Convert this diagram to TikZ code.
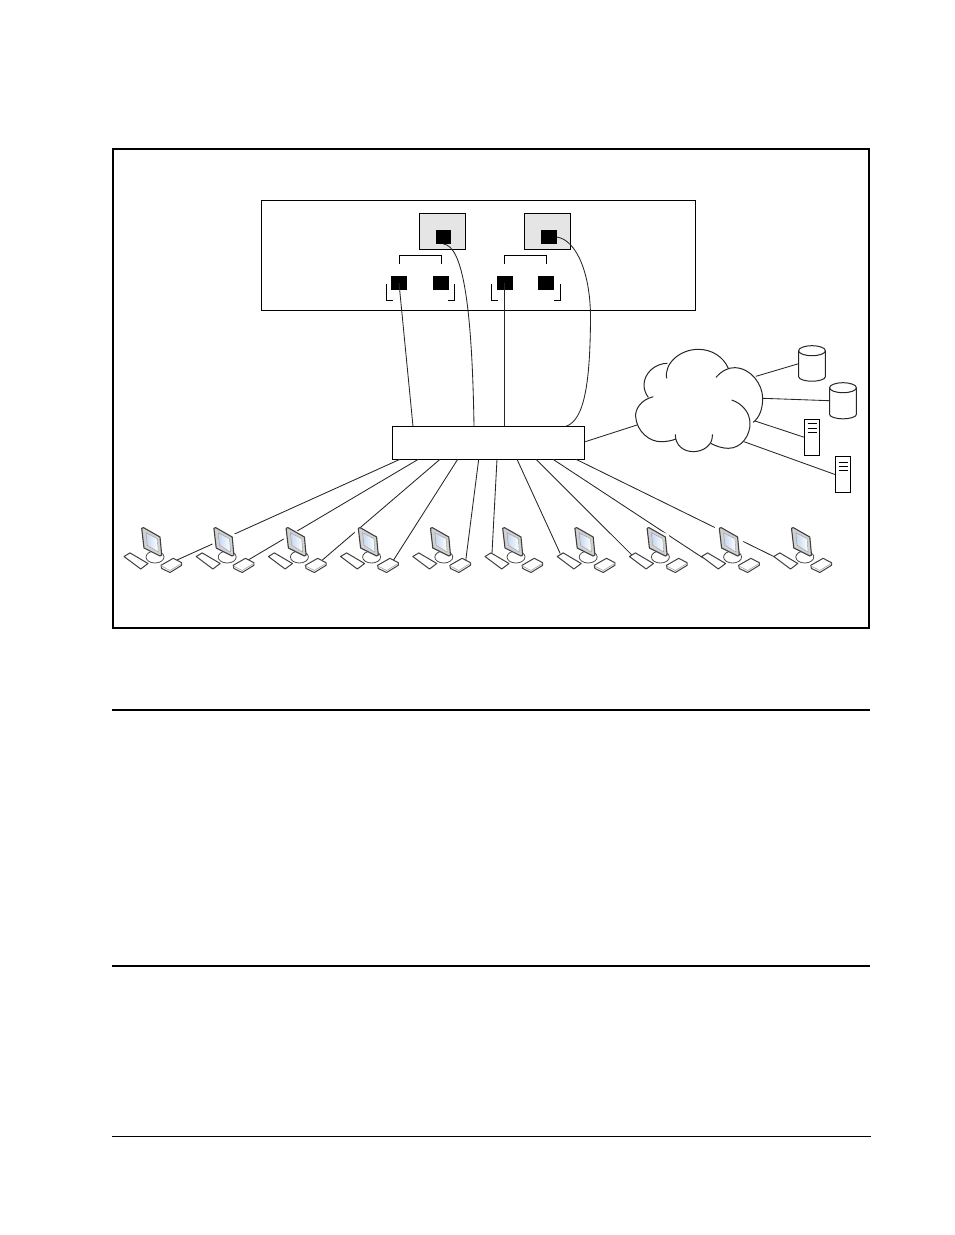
\documentclass[tikz,border=0pt]{standalone}
\usetikzlibrary{calc}
\definecolor{screenblue}{RGB}{196,214,242}
\tikzset{
 x=1pt,y=-1pt,
 box/.style={draw=black,line width=1pt,fill=white,inner sep=0pt,outer sep=0pt},
 graybox/.style={box,fill=black!10,minimum width=46pt,minimum height=36pt},
 port/.style={fill=black,inner sep=0pt,outer sep=0pt,minimum width=15.5pt,minimum height=14pt},
 bracket/.style={line width=0.9pt,black},
 wire/.style={line width=0.85pt,black!85},
 cloudline/.style={line width=1pt,black!85},
 server/.style={box,minimum width=15.4pt,minimum height=35.5pt},
 rule/.style={black},
}
\begin{document}
\begin{tikzpicture}
\useasboundingbox (0,0) rectangle (954,1235);
\fill[white] (0,0) rectangle (954,1235);
% frame
\node[box,line width=1.6pt,fill=none,minimum width=756.5pt,minimum height=478.8pt] (frame) at (491,388.6) {};
\node[box,minimum width=433.5pt,minimum height=109.5pt] (shelf) at (478.25,255.25) {};
% gray boxes
\node[graybox] (g1) at (442.3,231.3) {};
\node[graybox] (g2) at (547.5,231.3) {};
% ports
\node[port] (a) at (443.5,237) {};
\node[port] (b) at (549,237) {};
\node[port] (c) at (399,283) {};
\node[port] (d) at (441,283) {};
\node[port] (e) at (505,283) {};
\node[port] (f) at (546,283) {};
% brackets
\draw[bracket] (399.3,264) -- (399.3,255.3) -- (441.7,255.3) -- (441.7,264);
\draw[bracket] (504.3,264) -- (504.3,255.3) -- (546.7,255.3) -- (546.7,264);
\draw[bracket] (386.3,284.3) -- (386.3,300.3) -- (393,300.3);
\draw[bracket] (454.7,284.3) -- (454.7,300.3) -- (448,300.3);
\draw[bracket] (491.7,284.3) -- (491.7,300.3) -- (498,300.3);
\draw[bracket] (560.7,284.3) -- (560.7,300.3) -- (554,300.3);
% hub
\node[box,minimum width=192pt,minimum height=33pt] (hub) at (488.3,442.8) {};
\coordinate (hc) at (413,426.3);
\coordinate (ha) at (474,426.3);
\coordinate (he) at (504.5,426.3);
\coordinate (hb) at (566,426.3);
\draw[wire] (c.center) -- (hc);
\draw[wire] (he |- e.center) -- (he);
\draw[wire] (a.south) .. controls (462,246) and (472,300) .. (ha);
\draw[wire] (b.east) .. controls (577,240) and (591,275) .. (590.5,320) .. controls (590,380) and (585,420) .. (hb);
% pc coordinates and connectors
\foreach \i/\hx/\kx/\ky in {1/400/36/560,2/418.3/35/560,3/440/37/560,4/457.7/36/560,5/478.7/36/560,6/497/-10/553,7/517/-14/553.5,8/536/-13.5/556,9/553/-15.5/558,10/576/-16/557}{
  \pgfmathsetmacro{\px}{141+72.2*(\i-1)}
  \coordinate (top\i) at (\hx,459.3);
  \coordinate (pc\i) at (\px+\kx,\ky);
  \draw[wire] (top\i) -- (pc\i);
}
% workstations
\foreach \i in {1,...,10}{
  \pgfmathsetmacro{\dx}{72.2*(\i-1)}
  \begin{scope}[shift={(\dx,0)}]
    % white halo hides the wires behind the monitor
    \fill[white] (137,526) -- (163,534) -- (169,552) -- (166,560) -- (145,558) -- (141,548) -- cycle;
    \draw[black!70,line width=0.8pt,fill=white] (155,557) ellipse (9 and 6);
    \draw[black!75,line width=1.1pt,fill=black!18,line join=round]
      (141.7,528.3) -- (143.5,527.6) -- (160,537) -- (161.7,555) -- (160,556) -- (144,548) -- cycle;
    \path[left color=screenblue,right color=white]
      (146,532.7) -- (157.3,538.7) -- (158.3,552) -- (147.3,545.3) -- cycle;
    \draw[black!40,line width=0.4pt] (146,532.7) -- (157.3,538.7) -- (158.3,552) -- (147.3,545.3) -- cycle;
    % keyboard
    \draw[black!75,line width=1pt,fill=white,line join=round]
      (124,556.5) -- (130,552.9) -- (148,563.5) -- (140.7,569) -- cycle;
    % mouse box
    \draw[black!75,line width=1pt,fill=white,line join=round]
      (161,565.3) -- (173.3,558.3) -- (181.7,562.7) -- (181.7,565.3) -- (170,572.5) -- (161.7,568.5) -- cycle;
    \draw[black!35,line width=0.6pt] (161.2,566) -- (170,570.5) -- (181.5,563.5);
  \end{scope}
}
% cloud
\begin{scope}[shift={(620,335)},x=0.3333pt,y=-0.3333pt]
  \fill[white] (47,245) .. controls (45,190) and (70,170) .. (72,150) .. controls (72,115) and (105,85) .. (142,85) .. controls (160,60) and (190,43) .. (235,43) .. controls (275,43) and (310,65) .. (325,100) .. controls (395,100) and (428,150) .. (428,190) .. controls (428,220) and (410,260) .. (390,262) .. controls (392,300) and (365,340) .. (325,340) .. controls (290,340) and (280,335) .. (272,325) .. controls (250,350) and (190,350) .. (168,312) .. controls (140,320) and (50,290) .. (47,245) -- cycle;
  \draw[cloudline] (100,185) .. controls (60,195) and (45,225) .. (47,245) .. controls (50,290) and (90,322) .. (125,320) .. controls (140,320) and (155,317) .. (168,312);
  \draw[cloudline] (166,298) .. controls (165,330) and (190,350) .. (220,350) .. controls (250,350) and (280,330) .. (277,298);
  \draw[cloudline] (272,325) .. controls (290,335) and (310,340) .. (325,340) .. controls (365,340) and (392,300) .. (390,262) .. controls (388,230) and (365,205) .. (335,195);
  \draw[cloudline] (288,127) .. controls (305,108) and (325,97) .. (345,98) .. controls (395,100) and (428,150) .. (428,190) .. controls (428,220) and (420,245) .. (400,262);
  \draw[cloudline] (140,130) .. controls (132,85) and (180,43) .. (235,43) .. controls (275,43) and (310,65) .. (325,100);
  \draw[cloudline] (142,85) .. controls (105,85) and (72,115) .. (72,150) .. controls (72,165) and (78,178) .. (85,187);
\end{scope}
\coordinate (cl0) at (637,425);
\coordinate (cl1) at (756,376.3);
\coordinate (cl2) at (762.7,398.3);
\coordinate (cl3) at (755,421);
\coordinate (cl4) at (744,441.7);
\coordinate (hr) at (584.3,442);
\draw[wire] (hr) -- (cl0);
% storage
\foreach \n/\cx/\ty/\by in {db1/812/350.7/380.7,db2/843/387.7/418.3}{
  \draw[cloudline,fill=white] (\cx-13.4,\ty) -- (\cx-13.4,\by-4) arc[start angle=180,end angle=0,x radius=13.4,y radius=4.5] -- (\cx+13.4,\ty);
  \draw[cloudline,fill=white] (\cx,\ty) ellipse (13.4 and 5);
  \coordinate (\n) at (\cx-13.4,\ty+13);
}
\draw[wire] (cl1) -- (db1);
\draw[wire] (cl2) -- (db2);
\node[server] (s1) at (812,437.3) {};
\node[server] (s2) at (843,474.6) {};
\foreach \n/\yy in {s1/-13.5,s1/-9,s1/-4.5,s2/-12.5,s2/-8.5,s2/-4.5}{
  \draw[line width=0.7pt] ($(\n.center)+(-4.5,\yy)$) -- ($(\n.center)+(4.5,\yy)$);
}
\draw[wire] (cl3) -- (s1.west);
\draw[wire] (cl4) -- (s2.west);
% rules
\draw[rule,line width=1.6pt] (112,710) -- (870,710);
\draw[rule,line width=1.6pt] (112,966) -- (870,966);
\draw[rule,line width=0.8pt] (112,1136) -- (871,1136);
\end{tikzpicture}
\end{document}
